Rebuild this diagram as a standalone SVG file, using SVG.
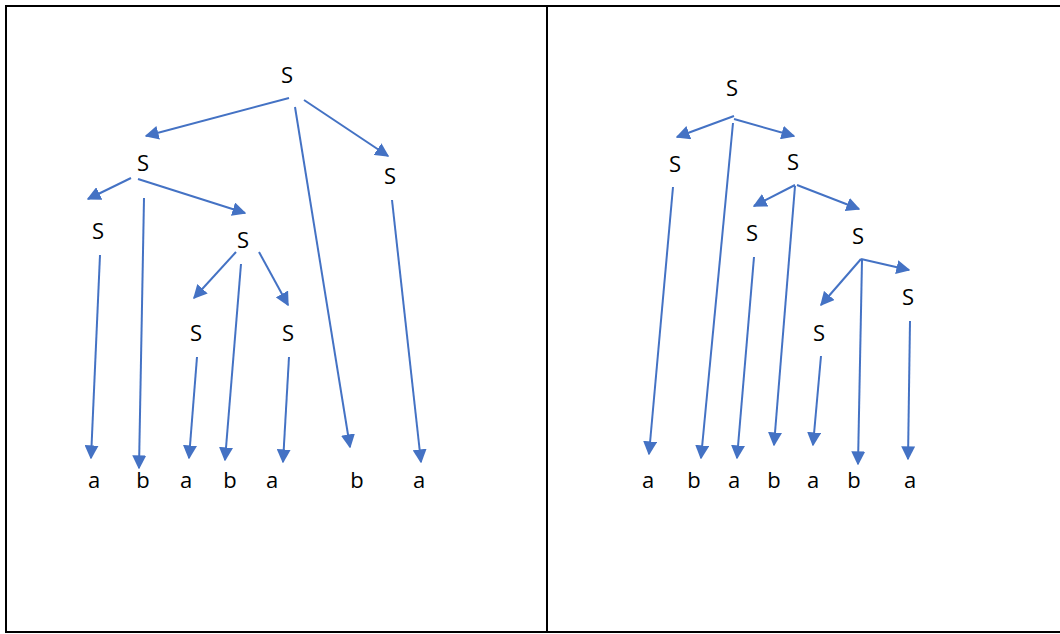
<svg xmlns="http://www.w3.org/2000/svg" width="1060" height="634" viewBox="0 0 1060 634">
<style>
.b{stroke:#000;stroke-width:2;fill:none}
.e{stroke:#4472C4;stroke-width:2;fill:none;marker-end:url(#ah)}
text{font-family:"Open Sans","Liberation Sans",sans-serif;font-size:22px;fill:#000;text-anchor:middle}
</style>
<defs>
<marker id="ah" viewBox="0 0 10 10" refX="9" refY="5" markerWidth="14" markerHeight="14" markerUnits="userSpaceOnUse" orient="auto">
<path d="M0,0 L10,5 L0,10 z" fill="#4472C4"/>
</marker>
</defs>
<rect width="1060" height="634" fill="#fff"/>
<g id="frame">
<line class="b" x1="5" y1="6" x2="1060" y2="6"/>
<line class="b" x1="5" y1="632" x2="1060" y2="632"/>
<line class="b" x1="6" y1="5" x2="6" y2="633"/>
<line class="b" x1="547" y1="5" x2="547" y2="633"/>
</g>
<g id="connectors">
<line class="e" x1="289" y1="98" x2="146" y2="136"/>
<line class="e" x1="295" y1="107" x2="350" y2="447"/>
<line class="e" x1="304" y1="100" x2="388" y2="156"/>
<line class="e" x1="131" y1="178" x2="88" y2="199"/>
<line class="e" x1="144" y1="198" x2="139" y2="468"/>
<line class="e" x1="138" y1="179" x2="245" y2="213"/>
<line class="e" x1="392" y1="200" x2="421" y2="462"/>
<line class="e" x1="100" y1="255" x2="91" y2="458"/>
<line class="e" x1="236" y1="252" x2="194" y2="298"/>
<line class="e" x1="241" y1="264" x2="225" y2="460"/>
<line class="e" x1="259" y1="252" x2="288" y2="305"/>
<line class="e" x1="197" y1="357" x2="189" y2="458"/>
<line class="e" x1="289" y1="357" x2="283" y2="462"/>
<line class="e" x1="734" y1="116" x2="677" y2="137"/>
<line class="e" x1="734" y1="119" x2="794" y2="136"/>
<line class="e" x1="733" y1="123" x2="701" y2="458"/>
<line class="e" x1="673" y1="187" x2="649" y2="454"/>
<line class="e" x1="795" y1="185" x2="754" y2="206"/>
<line class="e" x1="797" y1="185" x2="859" y2="209"/>
<line class="e" x1="795" y1="186" x2="774" y2="445"/>
<line class="e" x1="754" y1="257" x2="737" y2="458"/>
<line class="e" x1="861" y1="259" x2="821" y2="305"/>
<line class="e" x1="861" y1="259" x2="909" y2="270"/>
<line class="e" x1="862" y1="260" x2="858" y2="464"/>
<line class="e" x1="821" y1="356" x2="813" y2="445"/>
<line class="e" x1="910" y1="321" x2="908" y2="459"/>
</g>
<g id="left-tree">
<g id="L-S0"><text x="287" y="83">S</text></g>
<g id="L-S1"><text x="143" y="171">S</text></g>
<g id="L-S2"><text x="390" y="184">S</text></g>
<g id="L-S3"><text x="98" y="239">S</text></g>
<g id="L-S4"><text x="243" y="248">S</text></g>
<g id="L-S5"><text x="196" y="341">S</text></g>
<g id="L-S6"><text x="288" y="341">S</text></g>
<g id="L-t1"><text x="94" y="488">a</text></g>
<g id="L-t2"><text x="143" y="488">b</text></g>
<g id="L-t3"><text x="186" y="488">a</text></g>
<g id="L-t4"><text x="230" y="488">b</text></g>
<g id="L-t5"><text x="272" y="488">a</text></g>
<g id="L-t6"><text x="357" y="488">b</text></g>
<g id="L-t7"><text x="419" y="488">a</text></g>
</g>
<g id="right-tree">
<g id="R-S0"><text x="732" y="96">S</text></g>
<g id="R-S1"><text x="675" y="172">S</text></g>
<g id="R-S2"><text x="793" y="170">S</text></g>
<g id="R-S3"><text x="752" y="241">S</text></g>
<g id="R-S4"><text x="858" y="244">S</text></g>
<g id="R-S5"><text x="908" y="305">S</text></g>
<g id="R-S6"><text x="819" y="341">S</text></g>
<g id="R-t1"><text x="648" y="488">a</text></g>
<g id="R-t2"><text x="694" y="488">b</text></g>
<g id="R-t3"><text x="734" y="488">a</text></g>
<g id="R-t4"><text x="774" y="488">b</text></g>
<g id="R-t5"><text x="813" y="488">a</text></g>
<g id="R-t6"><text x="854" y="488">b</text></g>
<g id="R-t7"><text x="910" y="488">a</text></g>
</g>
</svg>
